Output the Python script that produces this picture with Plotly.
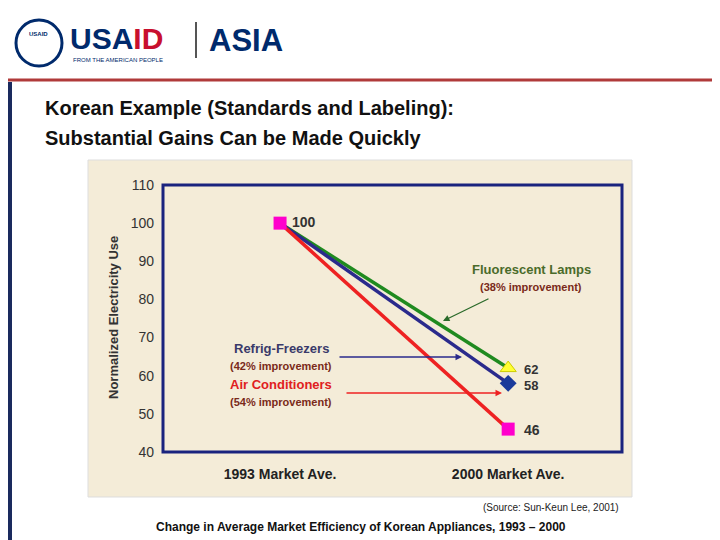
import plotly.graph_objects as go

categories = ["1993 Market Ave.", "2000 Market Ave."]
fluorescent = [100, 62]
refrig = [100, 58]
aircon = [100, 46]
yticks = [40, 50, 60, 70, 80, 90, 100, 110]

O = 8
W, H = 720 - O, 540 - O
L, R, T, B = 163, 622, 185, 452
def px(x): return (x - L) / (R - L)
def py(y): return (B - y) / (B - T)

fig = go.Figure()
xs = [0, 1]
fig.add_trace(go.Scatter(x=xs, y=fluorescent, mode="lines", line=dict(color="#1f8a1f", width=3.5)))
fig.add_trace(go.Scatter(x=xs, y=refrig, mode="lines", line=dict(color="#2a2a8c", width=3.5)))
fig.add_trace(go.Scatter(x=xs, y=aircon, mode="lines", line=dict(color="#ee2222", width=3.5)))
fig.add_trace(go.Scatter(x=[0], y=[aircon[0]], mode="markers", marker=dict(symbol="square", size=13, color="#ff00cc")))
fig.add_trace(go.Scatter(x=[1], y=[fluorescent[1]], mode="markers", marker=dict(symbol="triangle-up", size=14, color="#ffff33", line=dict(color="#cccc00", width=1))))
fig.add_trace(go.Scatter(x=[1], y=[refrig[1]], mode="markers", marker=dict(symbol="diamond", size=13, color="#1a3a9a")))
fig.add_trace(go.Scatter(x=[1], y=[aircon[1]], mode="markers", marker=dict(symbol="square", size=13, color="#ff00cc")))

shapes = [
    dict(type="rect", xref="paper", yref="paper", x0=px(88), x1=px(632), y0=py(497), y1=py(160),
         fillcolor="#f4ecd8", line=dict(color="#dddddd", width=1), layer="below"),
    dict(type="rect", xref="paper", yref="paper", x0=0, x1=1, y0=0, y1=1,
         line=dict(color="#1a237e", width=3)),
    dict(type="rect", xref="paper", yref="paper", x0=px(8), x1=px(12), y0=py(540), y1=py(82),
         fillcolor="#1a2a5e", line=dict(width=0)),
    dict(type="line", xref="paper", yref="paper", x0=px(0), x1=px(720), y0=py(80), y1=py(80),
         line=dict(color="#b03a3a", width=3)),
    dict(type="circle", xref="paper", yref="paper", x0=px(16), x1=px(62), y0=py(66), y1=py(20),
         fillcolor="white", line=dict(color="#002a6c", width=3)),
    dict(type="line", xref="paper", yref="paper", x0=px(196), x1=px(196), y0=py(58), y1=py(22),
         line=dict(color="#555", width=2)),
]

def ann(x, y, text, size=12, color="#222", bold=True, xanchor="center", **kw):
    t = f"<b>{text}</b>" if bold else text
    return dict(xref="paper", yref="paper", x=px(x), y=py(y), text=t, showarrow=False,
                font=dict(size=size, color=color, family="Arial"), xanchor=xanchor, yanchor="middle", **kw)

def arrow(x0, y0, x1, y1, color):
    return dict(xref="x domain", yref="y domain", axref="x domain", ayref="y domain", x=px(x1), y=py(y1),
                ax=px(x0), ay=py(y0), text="", showarrow=True, arrowhead=2, arrowsize=1,
                arrowwidth=1.3, arrowcolor=color)

anns = [
    ann(43, 108, "Korean Example (Standards and Labeling):", 20, "#111", xanchor="left"),
    ann(43, 138, "Substantial Gains Can be Made Quickly", 20, "#111", xanchor="left"),
    ann(68, 38, "<span style='color:#002a6c'>USA</span><span style='color:#c8102e'>ID</span>", 30, xanchor="left"),
    ann(71, 60, "FROM THE AMERICAN PEOPLE", 6, "#002a6c", bold=False, xanchor="left"),
    ann(207, 40, "ASIA", 31, "#002a6c", xanchor="left"),
    ann(39, 34, "USAID", 6, "#002a6c"),
    ann(113, 318, "Normalized Electricity Use", 13, "#333", textangle=-90),
    ann(290, 222, "100", 14, "#333", xanchor="left"),
    ann(522, 369, "62", 13, "#333", xanchor="left"),
    ann(522, 385, "58", 13, "#333", xanchor="left"),
    ann(522, 430, "46", 14, "#333", xanchor="left"),
    ann(531, 269, "Fluorescent Lamps", 13, "#4a6b2a"),
    ann(531, 287, "(38% improvement)", 11, "#7a2a1a"),
    ann(281, 348, "Refrig-Freezers", 13, "#3a3a6a"),
    ann(281, 366, "(42% improvement)", 11, "#7a2a1a"),
    ann(281, 384, "Air Conditioners", 13, "#e02020"),
    ann(281, 402, "(54% improvement)", 11, "#7a2a1a"),
    arrow(490, 298, 443, 321, "#2a6a2a"),
    arrow(338, 357, 462, 357, "#2a2a8c"),
    arrow(345, 393, 502, 393, "#ee2222"),
    ann(551, 507, "(Source: Sun-Keun Lee, 2001)", 10, "#222", bold=False),
    ann(361, 527, "Change in Average Market Efficiency of Korean Appliances, 1993 – 2000", 12, "#111"),
]

a = -0.255 / 0.497
fig.update_layout(
    width=W, height=H, margin=dict(l=L - O, r=720 - R, t=T - O, b=540 - B),
    paper_bgcolor="white", plot_bgcolor="#faf5e8", showlegend=False,
    shapes=shapes, annotations=anns,
    xaxis=dict(range=[a, a + 1 / 0.497], tickvals=[0, 1], ticktext=[f"<b>{c}</b>" for c in categories],
               showgrid=False, zeroline=False, ticks="", ticklabelstandoff=12,
               tickfont=dict(size=14, color="#222", family="Arial")),
    yaxis=dict(range=[40, 110], tickvals=yticks, showgrid=False, zeroline=False, ticks="",
               ticklabelstandoff=8, tickfont=dict(size=14, color="#333", family="Arial")),
)
fig.write_html("out.html")
